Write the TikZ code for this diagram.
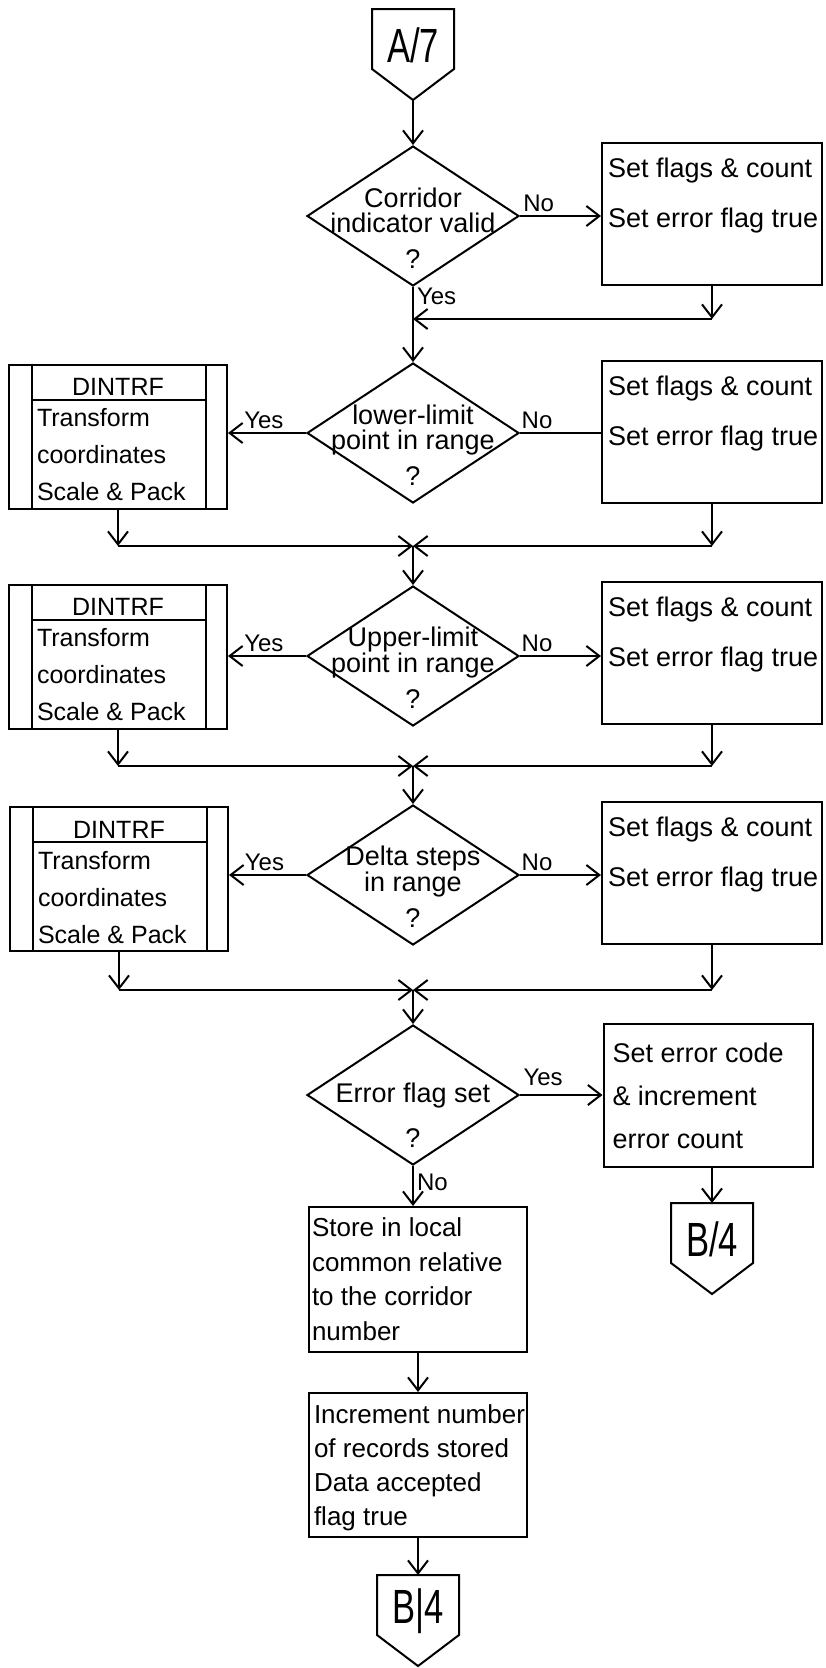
\documentclass[tikz,border=0pt]{standalone}
\usepackage{fontspec}
\setmainfont{Liberation Sans}
\newfontfamily\connfont[FakeStretch=0.72]{Liberation Sans}
\usetikzlibrary{arrows.meta,positioning,shapes.geometric}

\begin{document}
\begin{tikzpicture}[x=1pt,y=-1pt,line width=2pt,
   arr/.style={-{Straight Barb[length=13pt,width=20pt]}},
   decision/.style={draw,diamond,inner sep=0pt,minimum width=212pt,minimum height=140pt},
   dtext/.style={align=center,inner sep=0pt,yshift=-12pt,font=\fontsize{27}{25}\selectfont},
   proc/.style={draw,inner sep=0pt,minimum width=220pt,minimum height=142pt},
   sub/.style={draw,inner sep=0pt,minimum width=218pt,minimum height=144pt},
   conn/.style={inner sep=0pt,minimum width=80pt,minimum height=58pt},
   ctext/.style={inner sep=0pt,yshift=-6pt,font=\connfont\fontsize{48}{48}\selectfont},
   ptext/.style={anchor=north west,align=left,inner sep=0pt},
   ftext/.style={ptext,xshift=6pt,yshift=-15pt,font=\fontsize{27}{50}\selectfont},
   stext/.style={ptext,xshift=28pt,yshift=-44pt,font=\fontsize{25}{37}\selectfont},
   htext/.style={anchor=base,inner sep=0pt,yshift=-32pt,font=\fontsize{25}{25}\selectfont},
   lbl/.style={inner sep=3pt,font=\fontsize{24}{24}\selectfont}]
  \path[use as bounding box,fill=white] (0,0) rectangle (825,1668);

  % main column
  \node[conn,label={[ctext]center:A/7}] (a7) at (413,39) {};
  \node[decision,label={[dtext]center:Corridor\\indicator valid\\[11pt]?}] (d1) at (413,216) {};
  \node[decision,label={[dtext]center:lower-limit\\point in range\\[11pt]?}] (d2) at (413,433) {};
  \node[decision,label={[dtext]center:Upper-limit\\point in range\\[11pt]?}] (d3) at (413,656) {};
  \node[decision,label={[dtext]center:Delta steps\\in range\\[11pt]?}] (d4) at (413,875) {};
  \node[decision,label={[dtext,yshift=-8pt]center:Error flag set\\[20pt]?}] (d5) at (413,1095) {};
  \coordinate (j1) at (413,319);
  \coordinate (j2) at (413,546);
  \coordinate (j3) at (413,766);
  \coordinate (j4) at (413,990);

  % error boxes on the right
  \node[proc,label={[ftext]north west:Set flags \& count\\Set error flag true}] (f1) at (712,213.5) {};
  \node[proc,label={[ftext]north west:Set flags \& count\\Set error flag true}] (f2) at (712,431.5) {};
  \node[proc,label={[ftext]north west:Set flags \& count\\Set error flag true}] (f3) at (712,652.5) {};
  \node[proc,label={[ftext]north west:Set flags \& count\\Set error flag true}] (f4) at (712,872.5) {};
  \node[proc,minimum width=209pt,minimum height=143pt,
     label={[ptext,xshift=9pt,yshift=-19pt,font=\fontsize{27}{43}\selectfont]north west:Set error code\\\& increment\\error count}] (e5) at (708,1095.5) {};
  \node[conn,label={[ctext]center:B/4}] (b4r) at (712,1233) {};

  % DINTRF calls on the left
  \node[sub,label={[htext]north:DINTRF},label={[stext]north west:Transform\\coordinates\\Scale \& Pack}] (t1) at (118,436.5) {};
  \node[sub,label={[htext]north:DINTRF},label={[stext]north west:Transform\\coordinates\\Scale \& Pack}] (t2) at (118,656.5) {};
  \node[sub,label={[htext]north:DINTRF},label={[stext]north west:Transform\\coordinates\\Scale \& Pack}] (t3) at (119,879) {};

  % store and exit
  \node[proc,minimum width=218pt,minimum height=145pt,
     label={[ptext,xshift=3pt,yshift=-11pt,font=\fontsize{26}{34.5}\selectfont]north west:Store in local\\common relative\\to the corridor\\number}] (st) at (418,1279.5) {};
  \node[proc,minimum width=218pt,minimum height=144pt,
     label={[ptext,xshift=5pt,yshift=-12pt,font=\fontsize{26}{34}\selectfont]north west:Increment number\\of records stored\\Data accepted\\flag true}] (in) at (418,1465) {};
  \node[conn,label={[ctext]center:B|4}] (b4b) at (418,1605) {};

  \foreach \c in {a7,b4r,b4b}
    \draw (\c.north west) -- (\c.north east) -- (\c.south east) -- ([yshift=-31pt]\c.south) -- (\c.south west) -- cycle;
  \foreach \t in {t1,t2,t3} {
    \draw ([xshift=24pt]\t.north west) -- ([xshift=24pt]\t.south west);
    \draw ([xshift=-22pt]\t.north east) -- ([xshift=-22pt]\t.south east);
    \draw ([xshift=24pt,yshift=-36pt]\t.north west) -- ([xshift=-22pt,yshift=-36pt]\t.north east);
  }

  \draw[arr] ([yshift=-31pt]a7.south) -- (d1.north);
  \draw[arr] (d1.east) -- node[lbl,above,pos=0.23]{No} (d1.east -| f1.west);
  \draw[arr] (d1.south) -- node[lbl,right,pos=0.13]{Yes} (d2.north);
  \draw[arr] (f1.south) -- (f1.south |- j1);
  \draw[arr] (f1.south |- j1) -- (j1);

  \foreach \d/\t/\f/\j/\n/\tip in {d2/t1/f2/j2/d3/-, d3/t2/f3/j3/d4/arr, d4/t3/f4/j4/d5/arr} {
    \draw[arr] (\d.west) -- node[lbl,above,pos=0.54]{Yes} (\d.west -| \t.east);
    \draw[\tip] (\d.east) -- node[lbl,above,pos=0.21]{No} (\d.east -| \f.west);
    \draw[arr] (\t.south) -- (\t.south |- \j);
    \draw[arr] (\t.south |- \j) -- (\j);
    \draw[arr] (\f.south) -- (\f.south |- \j);
    \draw[arr] (\f.south |- \j) -- (\j);
    \draw[arr] (\j) -- (\n.north);
  }

  \draw[arr] (d5.east) -- node[lbl,above,pos=0.28,yshift=5pt]{Yes} (d5.east -| e5.west);
  \draw[arr] (d5.south) -- node[lbl,right,pos=0.4]{No} (d5.south |- st.north);
  \draw[arr] (e5.south -| b4r.north) -- (b4r.north);
  \draw[arr] (st.south) -- (in.north);
  \draw[arr] (in.south) -- (b4b.north);
\end{tikzpicture}
\end{document}
